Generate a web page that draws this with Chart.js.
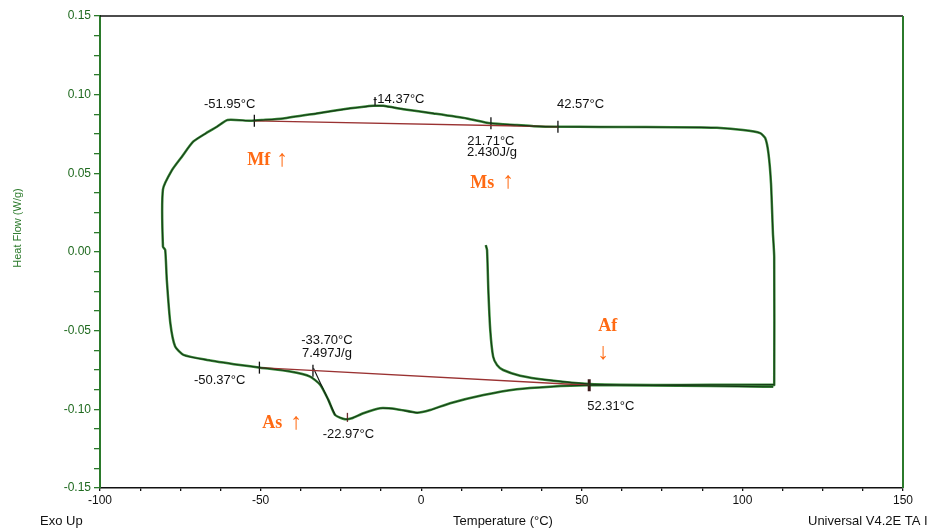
<!DOCTYPE html>
<html>
<head>
<meta charset="utf-8">
<script src="https://cdn.jsdelivr.net/npm/chart.js@4/dist/chart.umd.min.js"></script>
<style>
  html, body { margin: 0; padding: 0; background: #ffffff; }
  canvas { display: block; }
</style>
</head>
<body>
<canvas id="dsc" width="927" height="530"></canvas>
<script>
// DSC run: first heating from 20 °C, isotherm at 110 °C, cooling to -80 °C, second heating.
const curveTemp = [
  20.1, 20.5, 20.9, 21.5, 22.4, 23.6, 25.5, 30.8, 39.1, 52.6, 72.2, 90.0, 109.6,
  109.9, 109.9, 109.5, 108.9, 108.1, 107.1, 105.5, 100.2, 92.1, 86.9, 70.0, 55.7, 42.7,
  35.0, 29.8, 21.5, 14.2, 3.8, -5.6, -11.8, -14.9, -18.5, -22.1, -32.5, -43.0, -49.2, -53.2, -60.3,
  -63.6, -67.0, -71.0, -74.5, -77.6, -80.4, -80.4, -79.7, -79.2, -78.1, -76.6, -74.0, -66.7, -56.4, -50.1,
  -40.8, -34.6, -31.4, -28.9, -26.8, -23.7, -21.6, -18.0, -12.8, -7.6, -1.3, 2.8, 9.0, 19.4, 29.8, 40.2, 51.6,
  70.0, 90.0, 106.8, 109.6
];
const curveFlow = [
  0.0044, 0.0013, -0.0241, -0.0496, -0.0665, -0.0718, -0.0750, -0.0786, -0.0813, -0.0839, -0.0845, -0.0844, -0.0843,
  -0.0845, -0.0030, 0.0121, 0.0438, 0.0629, 0.0724, 0.0756, 0.0775, 0.0790, 0.0792, 0.0794, 0.0795, 0.0796,
  0.0800, 0.0807, 0.0818, 0.0849, 0.0881, 0.0908, 0.0929, 0.0929, 0.0922, 0.0913, 0.0881, 0.0849, 0.0839, 0.0834, 0.0839,
  0.0796, 0.0755, 0.0701, 0.0606, 0.0520, 0.0398, 0.0034, 0.0013, -0.0178, -0.0453, -0.0601, -0.0654, -0.0686, -0.0718, -0.0735,
  -0.0760, -0.0792, -0.0845, -0.0940, -0.1036, -0.1063, -0.1057, -0.1025, -0.0993, -0.0999, -0.1021, -0.1004, -0.0961, -0.0909, -0.0872, -0.0856, -0.0847,
  -0.0848, -0.0852, -0.0856, -0.0856
];

// Analysis results: onset / end temperatures and their heat flow on the curve
const limitTemp = [-51.95, 21.71, 42.57, -50.37, -33.70, 52.31];
const limitFlow = [0.0834, 0.0818, 0.0796, -0.0735, -0.0755, -0.0847];
// Peak temperatures (marks sit just off the curve)
const peakTemp = [-14.37, -22.97];
const peakFlow = [0.0956, -0.1051];
// Integration baselines (cooling, heating)
const coolBaseTemp = [-51.95, 42.57];
const coolBaseFlow = [0.0834, 0.0796];
const heatBaseTemp = [-50.37, 52.31];
const heatBaseFlow = [-0.0735, -0.0847];
// Onset tangent of the heating peak
const tangentTemp = [-33.53, -26.77];
const tangentFlow = [-0.0739, -0.1036];
// Enthalpies (J/g)
const enthalpy = [2.430, 7.497];

const xTickValues = [-100, -50, 0, 50, 100, 150];
const yTickValues = [-0.15, -0.10, -0.05, 0.00, 0.05, 0.10, 0.15];

const pts = (xs, ys) => xs.map((x, i) => ({ x: x, y: ys[i] }));
const fmtC = v => v.toFixed(2) + '°C';

const FONT = '"Liberation Sans", Arial, sans-serif';
const GREEN = '#2b7a2b';
const ORANGE = '#ff6a13';

const decor = {
  id: 'decor',
  afterDraw(chart) {
    const { ctx, chartArea: a, scales } = chart;
    const X = v => scales.x.getPixelForValue(v);
    const Y = v => scales.y.getPixelForValue(v);
    ctx.save();

    // frame: top black, right green
    ctx.strokeStyle = '#111';
    ctx.lineWidth = 1.5;
    ctx.beginPath(); ctx.moveTo(a.left, a.top); ctx.lineTo(a.right, a.top); ctx.stroke();
    ctx.strokeStyle = GREEN;
    ctx.lineWidth = 2;
    ctx.beginPath(); ctx.moveTo(a.right, a.top); ctx.lineTo(a.right, a.bottom); ctx.stroke();

    // result labels
    ctx.fillStyle = '#111';
    ctx.font = '13px ' + FONT;
    ctx.textBaseline = 'middle';
    const put = (txt, px, py, align) => { ctx.textAlign = align; ctx.fillText(txt, px, py); };
    put(fmtC(limitTemp[0]), X(limitTemp[0]) + 1, Y(limitFlow[0]) - 16, 'right');
    put(fmtC(peakTemp[0]), X(peakTemp[0]) - 2, Y(peakFlow[0]) - 2, 'left');
    put(fmtC(limitTemp[1]), X(limitTemp[1]), Y(limitFlow[1]) + 18, 'center');
    put(enthalpy[0].toFixed(3) + 'J/g', X(limitTemp[1]) + 1, Y(limitFlow[1]) + 29, 'center');
    put(fmtC(limitTemp[2]), X(limitTemp[2]) - 1, Y(limitFlow[2]) - 22, 'left');
    put(fmtC(limitTemp[3]), X(limitTemp[3]) - 14, Y(limitFlow[3]) + 13, 'right');
    put(fmtC(limitTemp[4]), X(limitTemp[4]) + 14, Y(limitFlow[4]) - 30, 'center');
    put(enthalpy[1].toFixed(3) + 'J/g', X(limitTemp[4]) + 14, Y(limitFlow[4]) - 17, 'center');
    put(fmtC(peakTemp[1]), X(peakTemp[1]) + 1, Y(peakFlow[1]) + 17, 'center');
    put(fmtC(limitTemp[5]), X(limitTemp[5]) - 2, Y(limitFlow[5]) + 21, 'left');

    // transformation temperature tags
    const tags = [
      { s: 'Mf', t: -54.17, h: 0.0553, arrow: '↑', at: -43.28, ah: 0.0584 },
      { s: 'Ms', t: 15.26, h: 0.0407, arrow: '↑', at: 27.09, ah: 0.0445 },
      { s: 'As', t: -49.5, h: -0.1118, arrow: '↑', at: -38.92, ah: -0.1086 },
      { s: 'Af', t: 55.1, h: -0.0502, arrow: '↓', at: 56.66, ah: -0.0642 }
    ];
    ctx.fillStyle = ORANGE;
    tags.forEach(g => {
      ctx.font = 'bold 18px "Liberation Serif", "Times New Roman", serif';
      ctx.textAlign = 'left';
      ctx.textBaseline = 'alphabetic';
      ctx.fillText(g.s, X(g.t), Y(g.h));
      ctx.font = '23px "Liberation Serif", "Times New Roman", serif';
      ctx.textAlign = 'center';
      ctx.textBaseline = 'middle';
      ctx.fillText(g.arrow, X(g.at), Y(g.ah));
    });

    // axis titles and footer
    ctx.font = '11px ' + FONT;
    ctx.fillStyle = GREEN;
    ctx.save();
    ctx.translate(18, 228);
    ctx.rotate(-Math.PI / 2);
    ctx.textAlign = 'center';
    ctx.textBaseline = 'middle';
    ctx.fillText('Heat Flow (W/g)', 0, 0);
    ctx.restore();

    ctx.fillStyle = '#111';
    ctx.font = '13px ' + FONT;
    ctx.textBaseline = 'middle';
    ctx.textAlign = 'center';
    ctx.fillText('Temperature (°C)', 503, 521);
    ctx.textAlign = 'left';
    ctx.fillText('Exo Up', 40, 521);
    ctx.fillText('Universal V4.2E TA I', 808, 521);
    ctx.restore();
  }
};

new Chart(document.getElementById('dsc'), {
  type: 'scatter',
  data: {
    datasets: [
      { data: pts(curveTemp, curveFlow), showLine: true, pointRadius: 0, borderColor: '#173a17', borderWidth: 1.1, tension: 0.2, order: 0 },
      { data: pts(curveTemp, curveFlow), showLine: true, pointRadius: 0, borderColor: '#3d8f3d', borderWidth: 2.5, tension: 0.2, order: 1 },
      { data: pts(coolBaseTemp, coolBaseFlow), showLine: true, pointRadius: 0, borderColor: '#9a3232', borderWidth: 1.3, order: 0 },
      { data: pts(heatBaseTemp, heatBaseFlow), showLine: true, pointRadius: 0, borderColor: '#9a3232', borderWidth: 1.3, order: 0 },
      { data: pts(tangentTemp, tangentFlow), showLine: true, pointRadius: 0, borderColor: '#111', borderWidth: 1.1, order: 0 },
      { data: pts(limitTemp, limitFlow), showLine: false, pointStyle: 'line', rotation: 90, pointRadius: 6, order: 0,
        borderColor: ['#111', '#111', '#111', '#111', '#111', '#3a1818'], borderWidth: [1.3, 1.3, 1.3, 1.3, 1.3, 3] },
      { data: pts(peakTemp, peakFlow), showLine: false, pointStyle: 'line', rotation: 90, pointRadius: 4.5, order: 0,
        borderColor: ['#111', '#6a2a2a'], borderWidth: 1.3 }
    ]
  },
  options: {
    responsive: false,
    animation: false,
    devicePixelRatio: 1,
    layout: { padding: { top: 16, right: 24, left: 0, bottom: 0 } },
    plugins: { legend: { display: false }, tooltip: { enabled: false } },
    scales: {
      x: {
        type: 'linear', position: 'bottom', min: -100, max: 150,
        afterFit: s => { s.height = 42; },
        border: { color: '#111', width: 1.5 },
        grid: { drawOnChartArea: false, drawTicks: true, tickLength: 3, color: '#111', lineWidth: 1.3 },
        ticks: {
          stepSize: 12.5, autoSkip: false, maxRotation: 0, padding: 2, color: '#111',
          font: { size: 12, family: FONT },
          callback: v => (xTickValues.includes(v) ? String(v) : '')
        }
      },
      y: {
        type: 'linear', position: 'left', min: -0.15, max: 0.15,
        afterFit: s => { s.width = 100; },
        border: { color: GREEN, width: 2 },
        grid: { drawOnChartArea: false, drawTicks: true, tickLength: 6, color: GREEN, lineWidth: 1.3 },
        ticks: {
          stepSize: 0.0125, autoSkip: false, padding: 3, color: '#1f6a1f',
          font: { size: 12, family: FONT },
          callback: v => (yTickValues.some(t => Math.abs(t - v) < 1e-6) ? v.toFixed(2) : '')
        }
      }
    }
  },
  plugins: [decor]
});
</script>
</body>
</html>
